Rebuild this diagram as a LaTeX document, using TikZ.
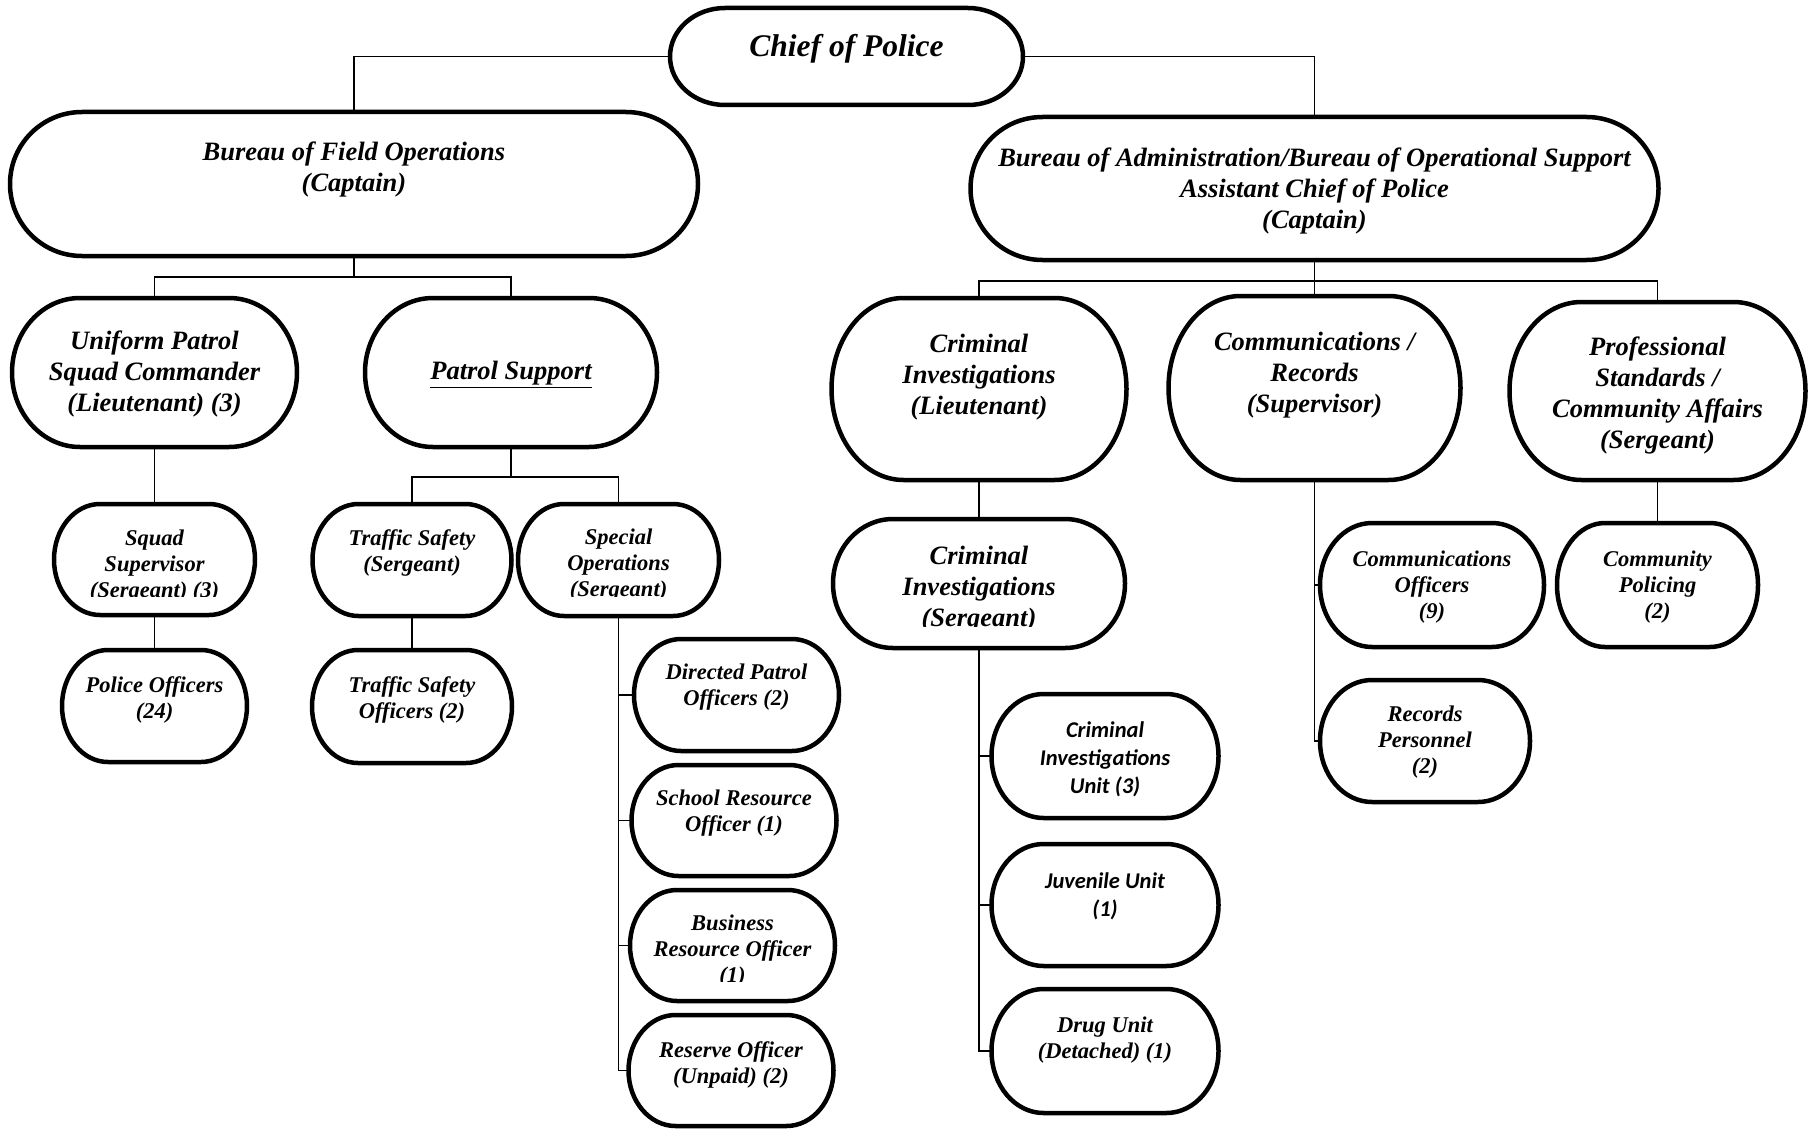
\documentclass[tikz,border=0pt]{standalone}
\usepackage{fontspec}
\setmainfont{Liberation Serif}
\newfontfamily\calibrifont{Carlito}
\usetikzlibrary{calc}

\tikzset{
  frame/.style={rectangle, draw=none, inner sep=0pt, outer sep=0pt},
  outline/.style={line width=4.5pt, line join=round},
  conn/.style={line width=1.8pt},
  label base/.style={align=center, inner sep=0pt, yshift=-2.5pt},
  chieftext/.style={label base, font=\fontsize{31.5}{36}\selectfont\bfseries\itshape},
  bigtext/.style={label base, font=\fontsize{26.5}{31}\selectfont\bfseries\itshape},
  smalltext/.style={label base, font=\fontsize{22.5}{26}\selectfont\bfseries\itshape},
  sanstext/.style={label base, font=\calibrifont\fontsize{22.5}{28}\selectfont\bfseries\itshape}
}

% #1 name, #2 cx, #3 cy, #4 width, #5 height, #6 horizontal radius of the rounded ends
\newcommand\orgbox[6]{%
  \node[frame, minimum width=#4pt, minimum height=#5pt] (#1) at (#2,#3) {};
  \draw[outline] ([xshift=#6pt]#1.north west) -- ([xshift=-#6pt]#1.north east)
    arc[start angle=90, end angle=-90, x radius=#6pt, y radius={#5pt/2}]
    -- ([xshift=#6pt]#1.south west)
    arc[start angle=270, end angle=90, x radius=#6pt, y radius={#5pt/2}] -- cycle;
}

\begin{document}
\begin{tikzpicture}[x=1pt, y=-1pt]
\fill[white] (0,0) rectangle (1809,1129);
\useasboundingbox (0,0) rectangle (1809,1129);

% ---------- boxes ----------
\orgbox{chief}{846.5}{56.5}{353}{97}{55}
\orgbox{bfo}{354}{184}{688}{144}{72}
\orgbox{ba}{1314.5}{188.5}{688}{143}{72}

\orgbox{up}{154.5}{372.5}{285}{149}{68}
\orgbox{ps}{511}{372.5}{292}{149}{68}
\orgbox{cil}{979}{389}{295}{182}{72}
\orgbox{cr}{1314.5}{388}{292}{184}{72}
\orgbox{pro}{1657.5}{391}{296}{178}{72}

\orgbox{ss}{154.5}{559.5}{201}{111}{46}
\orgbox{po}{154.5}{706}{185}{112}{46}
\orgbox{ts}{412}{560}{199}{112}{46}
\orgbox{so}{618.5}{560}{201}{112}{46}
\orgbox{tso}{412}{706.5}{200}{113}{46}

\orgbox{dp}{736.5}{695}{205}{112}{47}
\orgbox{sro}{734}{820.5}{205}{111}{47}
\orgbox{bro}{732.5}{945.5}{205}{111}{47}
\orgbox{ro}{731}{1070.5}{205}{111}{47}

\orgbox{cis}{979}{583.5}{292}{129}{60}
\orgbox{ciu}{1105}{756}{227}{124}{52}
\orgbox{ju}{1105}{905}{227}{122}{52}
\orgbox{du}{1105}{1051}{227}{124}{52}

\orgbox{co}{1432}{585}{224}{124}{52}
\orgbox{rp}{1425}{741}{210}{122}{52}
\orgbox{cp}{1657.5}{585}{201}{124}{48}

% ---------- labels ----------
\node[chieftext] (chief-t) at (846.5,46) {Chief of Police};
\node[bigtext] (bfo-t) at (354,167) {Bureau of Field Operations\\(Captain)};
\node[bigtext] (ba-t) at (1314.5,188.5) {Bureau of Administration/Bureau of Operational Support\\Assistant Chief of Police\\(Captain)};

\node[bigtext] (up-t) at (154.5,371.5) {Uniform Patrol\\Squad Commander\\(Lieutenant) (3)};
\node[bigtext] (ps-t) at (511,372) {\underline{Patrol Support}};
\node[bigtext] (cil-t) at (979,375) {Criminal\\Investigations\\(Lieutenant)};
\node[bigtext] (cr-t) at (1314.5,373) {Communications /\\Records\\(Supervisor)};
\node[bigtext] (pro-t) at (1657.5,393) {Professional\\Standards /\\Community Affairs\\(Sergeant)};

% texts cut off at the lower edge of their frame
\begin{scope}
  \clip (0,0) rectangle (1809,596.5);
  \node[smalltext] (ss-t) at (154.5,564) {Squad\\Supervisor\\(Sergeant) (3)};
  \node[smalltext] (so-t) at (618.5,563) {Special\\Operations\\(Sergeant)};
\end{scope}
\begin{scope}
  \clip (0,0) rectangle (1809,981);
  \node[smalltext] (bro-t) at (732.5,948.5) {Business\\Resource Officer\\(1)};
\end{scope}
\begin{scope}
  \clip (0,0) rectangle (1809,626.5);
  \node[bigtext] (cis-t) at (979,587) {Criminal\\Investigations\\(Sergeant)};
\end{scope}

\node[smalltext] (po-t) at (154.5,697) {Police Officers\\(24)};
\node[smalltext] (ts-t) at (412,550) {Traffic Safety\\(Sergeant)};
\node[smalltext] (tso-t) at (412,697) {Traffic Safety\\Officers (2)};

\node[smalltext] (dp-t) at (736.5,685) {Directed Patrol\\Officers (2)};
\node[smalltext] (sro-t) at (734,810.5) {School Resource\\Officer (1)};
\node[smalltext] (ro-t) at (731,1062) {Reserve Officer\\(Unpaid) (2)};

\node[sanstext] (ciu-t) at (1105,757) {Criminal\\Investigations\\Unit (3)};
\node[sanstext] (ju-t) at (1105,893.5) {Juvenile Unit\\(1)};
\node[smalltext] (du-t) at (1105,1037.5) {Drug Unit\\(Detached) (1)};

\node[smalltext] (co-t) at (1432,585) {Communications\\Officers\\(9)};
\node[smalltext] (rp-t) at (1425,740) {Records\\Personnel\\(2)};
\node[smalltext] (cp-t) at (1657.5,585) {Community\\Policing\\(2)};

% ---------- connectors ----------
\coordinate (busL) at (354,277);
\coordinate (busR) at (1314.5,281);
\coordinate (busP) at (511,477);

\draw[conn] (chief.west) -| (bfo.north);
\draw[conn] (chief.east) -| (ba.north);

\draw[conn] (bfo.south) -- (busL);
\draw[conn] (up.north) |- (busL) -| (ps.north);

\draw[conn] (ba.south) -- (cr.north);
\draw[conn] (cil.north) |- (busR) -| (pro.north);

\draw[conn] (up.south) -- (ss.north);
\draw[conn] (ss.south) -- (po.north);

\draw[conn] (ps.south) -- (busP);
\draw[conn] (ts.north) |- (busP) -| (so.north);
\draw[conn] (ts.south) -- (tso.north);

\draw[conn] (so.south) |- (dp.west);
\draw[conn] (so.south) |- (sro.west);
\draw[conn] (so.south) |- (bro.west);
\draw[conn] (so.south) |- (ro.west);

\draw[conn] (cil.south) -- (cis.north);
\draw[conn] (cis.south) |- (ciu.west);
\draw[conn] (cis.south) |- (ju.west);
\draw[conn] (cis.south) |- (du.west);

\draw[conn] (cr.south) |- (co.west);
\draw[conn] (cr.south) |- (rp.west);

\draw[conn] (pro.south) -- (cp.north);
\end{tikzpicture}
\end{document}
